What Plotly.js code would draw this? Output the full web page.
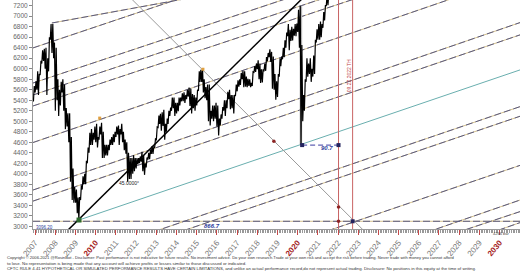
<!DOCTYPE html>
<html><head><meta charset="utf-8">
<script src="https://cdn.plot.ly/plotly-3.0.1.min.js"></script>
<style>html,body{margin:0;padding:0;background:#fff}#chart{width:520px;height:272px}</style>
</head><body><div id="chart"></div>
<script>
// ---------- price data (monthly low / high, from Nov 2006) ----------
const firstMonth = [2006, 11];
const lows = [
  5290, 5380,
  5550, 5600, 5500, 5880, 6100, 6150, 6000, 5500, 5950, 6550, 6300, 6200,
  5200, 5400, 5100, 5300, 5550, 5200, 4850, 4900, 4600, 3850, 3500, 3450,
  3450, 3250, 3120, 3500, 3700, 3800, 3800, 4200, 4400, 4550, 4550, 4650,
  4600, 4500, 4650, 4750, 4300, 4300, 4350, 4350, 4450, 4550, 4550, 4600,
  4700, 4750, 4550, 4750, 4600, 4450, 4380, 3850, 3900, 3900, 4000, 4050,
  4100, 4180, 4200, 4230, 4050, 3980, 4120, 4270, 4280, 4380, 4380, 4500,
  4650, 4880, 4950, 4820, 4910, 4650, 4800, 4950, 5100, 5200, 5250, 5100,
  5150, 5190, 5300, 5380, 5380, 5350, 5420, 5470, 5290, 5150, 5250, 5200,
  5300, 5580, 5750, 5750, 5550, 5440, 5400, 5000, 4920, 5050, 5000, 5050,
  4900, 4730, 4920, 5050, 5200, 5100, 5250, 5420, 5230, 5250, 5150, 5480,
  5570, 5660, 5690, 5800, 5650, 5660, 5650, 5670, 5650, 5670, 5930, 5940,
  5990, 5800, 5730, 5740, 5950, 5960, 6140, 6220, 6130, 5620, 5600, 5410,
  5460, 5850, 6050, 6180, 6220, 6400, 6620, 6350, 6530, 6540, 6630, 6620,
  6700, 6400, 4546, 5000, 5200, 5750, 5850, 5900, 5750, 5850, 5900, 6500,
  6550, 6550, 6600, 6780, 6920, 7200, 7210, 7380
];
const highs = [
  5400, 5670,
  5760, 5950, 5900, 6150, 6350, 6380, 6400, 6200, 6600, 6850, 6850, 6500,
  6400, 5800, 5600, 5750, 5800, 5700, 5250, 5150, 5150, 4700, 4100, 3750,
  3700, 3550, 3560, 3780, 3950, 4000, 4250, 4500, 4780, 4850, 4780, 4900,
  4950, 4700, 4900, 4970, 4800, 4550, 4550, 4550, 4650, 4700, 4750, 4800,
  4900, 4920, 4850, 4950, 4800, 4650, 4600, 4400, 4300, 4300, 4350, 4300,
  4300, 4300, 4330, 4420, 4350, 4200, 4310, 4400, 4450, 4530, 4510, 4660,
  4890, 5110, 5140, 5170, 5220, 4950, 5050, 5200, 5260, 5450, 5450, 5350,
  5350, 5450, 5450, 5530, 5550, 5500, 5600, 5640, 5620, 5520, 5500, 5450,
  5600, 5950, 5980, 6000, 5800, 5650, 5700, 5700, 5200, 5300, 5300, 5350,
  5300, 5050, 5130, 5270, 5400, 5400, 5560, 5600, 5500, 5500, 5500, 5700,
  5780, 5800, 5920, 5960, 5950, 5850, 5810, 5800, 5730, 5940, 6050, 6100,
  6160, 6100, 5990, 5990, 6100, 6220, 6300, 6370, 6320, 6230, 5900, 5760,
  5900, 6200, 6230, 6400, 6540, 6690, 6850, 6740, 6800, 6760, 6850, 6860,
  7120, 7197, 6450, 5500, 5800, 6200, 6100, 6200, 6000, 6250, 6550, 6750,
  6850, 6900, 6850, 7080, 7200, 7420, 7420, 7630
];

// ---------- analysis lines (start date, start value, end date, end value) ----------
const dashStartX = ['2007-11-01','2006-11-25','2006-11-25','2006-11-25','2006-11-25','2006-11-25','2006-11-25','2006-11-25','2011-01-01','2012-01-01','2021-01-01','2025-01-01','2026-01-01','2029-01-01','2006-11-25'];
const dashStartY = [6870, 6396, 5728, 5500, 5291, 4595, 3691, 3480, 2651, 2610, 2850, 2700, 2640, 2800, 3096];
const dashEndX   = ['2014-06-01','2014-09-01','2021-01-01','2023-01-01','2024-01-01','2031-01-05','2031-01-05','2031-01-05','2031-01-05','2031-01-05','2031-01-05','2031-01-05','2031-01-05','2031-01-05','2031-01-05'];
const dashEndY   = [7330, 7400, 7533, 7561, 7480, 7780, 6878, 6644, 5278, 5095, 4160, 3500, 3280, 3070, 3096];

const tealX = ['2009-03-06','2031-01-05'];
const tealY = [3120, 5977];
const blackX = ['2008-08-20','2020-03-20'];
const blackY = [2930, 7330];
const greyX = ['2011-10-01','2023-04-01'];
const greyY = [7340, 2930];
const crashX = ['2020-03-01','2020-03-01'];
const crashY = [7197, 4546];
const rangeX = ['2020-03-23','2022-01-10'];
const rangeY = [4546, 4546];
const redDates = ['2022-01-10','2022-09-22'];

const navyPtsX = ['2020-03-23','2022-01-10','2022-09-22'];
const navyPtsY = [4546, 4546, 3096];
const redPtsX = ['2022-01-10','2022-01-10','2018-10-29'];
const redPtsY = [3370, 3096, 4620];
const orangePtsX = ['2010-03-15','2015-04-25'];
const orangePtsY = [5060, 5990];
const lowPtX = ['2009-03-06'];
const lowPtY = [3120];

const yearTicks = ['2007','2008','2009','2010','2011','2012','2013','2014','2015','2016','2017','2018','2019','2020','2021','2022','2023','2024','2025','2026','2027','2028','2029','2030'];
const redYears = ['2010','2020','2030'];
const yTicks = [3000,3200,3400,3600,3800,4000,4200,4400,4600,4800,5000,5200,5400,5600,5800,6000,6200,6400,6600,6800,7000,7200];

// ---------- build ----------
function pad(n){return (n<10?'0':'')+n;}
const px = [], py = [];
let yr = firstMonth[0], mo = firstMonth[1];
for (let i = 0; i < lows.length; i++) {
  px.push(yr+'-'+pad(mo)+'-03'); py.push(lows[i]);
  px.push(yr+'-'+pad(mo)+'-18'); py.push(highs[i]);
  mo++; if (mo > 12) { mo = 1; yr++; }
}
const dX = [], dY = [];
for (let i = 0; i < dashStartX.length; i++) {
  dX.push(dashStartX[i], dashEndX[i], null);
  dY.push(dashStartY[i], dashEndY[i], null);
}
const rX = [], rY = [];
redDates.forEach(d => { rX.push(d, d, null); rY.push(2900, 7400, null); });

const traces = [
  {x: dX, y: dY, mode:'lines', line:{color:'#d4c08c', width:1}},
  {x: dX, y: dY, mode:'lines', line:{color:'#5a5a80', width:1, dash:'7px,3px'}},
  {x: tealX, y: tealY, mode:'lines', line:{color:'#6aafaf', width:1}},
  {x: greyX, y: greyY, mode:'lines', line:{color:'#9a9a9a', width:1}},
  {x: rX, y: rY, mode:'lines', line:{color:'#c96464', width:1}},
  {x: crashX, y: crashY, mode:'lines', line:{color:'#b4b4b4', width:2.5}},
  {x: px, y: py, mode:'lines', line:{color:'#000', width:1.2}},
  {x: blackX, y: blackY, mode:'lines', line:{color:'#000', width:1.5}},
  {x: rangeX, y: rangeY, mode:'lines', line:{color:'#3a3aa0', width:1, dash:'5px,3px'}},
  {x: navyPtsX, y: navyPtsY, mode:'markers', marker:{color:'#23235e', size:4, symbol:'square'}},
  {x: redPtsX, y: redPtsY, mode:'markers', marker:{color:'#8c2424', size:3.5}},
  {x: orangePtsX, y: orangePtsY, mode:'markers', marker:{color:'#e0a040', size:3, symbol:'square'}},
  {x: lowPtX, y: lowPtY, mode:'markers', marker:{color:'#2f6b2f', size:5, symbol:'square'}}
];

const ticktext = yearTicks.map(y => redYears.includes(y) ? "<b><span style='color:#a31a1a'>"+y+"</span></b>" : y);
const tickvals = yearTicks.map(y => y+'-01-01');

const small = "Liberation Sans, Arial, sans-serif";
const blue = '#2b3b9b';
const annotations = [
  {x:'2021-06-15', y:4491, text:'<b><i>90.7</i></b>', showarrow:false, font:{size:6, color:blue, family:'Liberation Sans'}},
  {x:'2015-10-05', y:3006, text:'<b><i>866.7</i></b>', showarrow:false, font:{size:6, color:blue, family:'Liberation Sans'}},
  {x:'2015-01-25', y:7318, text:'<b><i>718.0</i></b>', showarrow:false, yanchor:'middle', font:{size:7, color:blue, family:'Liberation Sans'}},
  {x:'2006-12-05', y:2978, xanchor:'left', text:'3096.20', showarrow:false, font:{size:4.5, color:blue, family:small}},
  {x:'2011-08-20', y:3825, text:'45.0000°', showarrow:false, font:{size:5, color:'#222', family:small}},
  {x:'2022-07-25', y:5863, text:'09.22.2022 TH', textangle:-90, showarrow:false, font:{size:5, color:'#c04545', family:small}},
  {xref:'paper', yref:'paper', x:0.9815, y:-0.0393, text:'4266 bar', showarrow:false, font:{size:4, color:'#444', family:small}},
  {xref:'paper', yref:'paper', x:-0.0575, y:-0.1236, xanchor:'left', yanchor:'middle', showarrow:false,
   text:'Copyright © 2006-2021 @RosinBot - Disclaimer: Past performance is not indicative for future results. No investment advice. Do your own research.Trade at your own risk and accept the risk before trading. Never trade with money you cannot afford',
   font:{size:4.1, color:'#333', family:small}},
  {xref:'paper', yref:'paper', x:-0.0575, y:-0.1498, xanchor:'left', yanchor:'middle', showarrow:false,
   text:'to lose. No representation is being made that any account will achieve profits or losses similar to those discussed or indicated.',
   font:{size:4.3, color:'#333', family:small}},
  {xref:'paper', yref:'paper', x:-0.0575, y:-0.1725, xanchor:'left', yanchor:'middle', showarrow:false,
   text:'CFTC RULE 4.41 HYPOTHETICAL OR SIMULATED PERFORMANCE RESULTS HAVE CERTAIN LIMITATIONS, and unlike an actual performance record,do not represent actual trading. Disclosure: No positions in this equity at the time of writing.',
   font:{size:4.3, color:'#333', family:small}}
];

const layout = {
  width:520, height:272,
  margin:{l:33, r:0, t:0, b:43, pad:0},
  paper_bgcolor:'#fff', plot_bgcolor:'#fff',
  showlegend:false, hovermode:false,
  xaxis:{
    type:'date', range:['2006-11-25','2031-01-05'],
    tickvals:tickvals, ticktext:ticktext, tickangle:-50,
    ticks:'outside', ticklen:5, tickcolor:'#c44a4a', tickwidth:1,
    minor:{ticks:'outside', ticklen:2.5, tickcolor:'#999', dtick:'M1', showgrid:false},
    showgrid:false, zeroline:false, showline:true, linecolor:'#999', linewidth:1,
    tickfont:{size:8, color:'#777', family:'Liberation Sans'}
  },
  yaxis:{
    range:[2949, 7308], tickvals:yTicks,
    ticks:'outside', ticklen:3, tickcolor:'#888',
    showgrid:false, zeroline:false, showline:true, linecolor:'#999', linewidth:1,
    tickfont:{size:6.5, color:'#666', family:'Liberation Sans'}
  },
  annotations:annotations
};

Plotly.newPlot('chart', traces, layout, {staticPlot:true, displayModeBar:false});
</script></body></html>
